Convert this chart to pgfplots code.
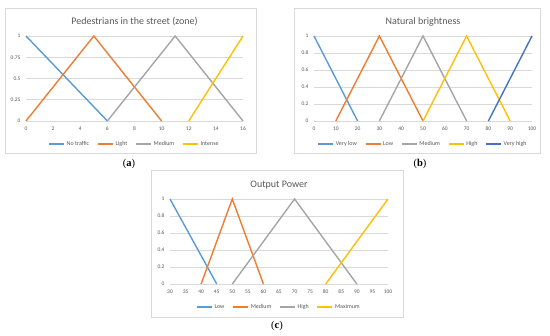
\documentclass[border=0pt]{standalone}
\usepackage{pgfplots}
\pgfplotsset{compat=1.18}
\usepackage{fontspec}
\setmainfont{Carlito}
\newfontfamily\seriffont{Liberation Serif}
\definecolor{cblue}{HTML}{5B9BD5}
\definecolor{corange}{HTML}{ED7D31}
\definecolor{cgray}{HTML}{A5A5A5}
\definecolor{cgold}{HTML}{FFC000}
\definecolor{cdblue}{HTML}{4472C4}
\definecolor{gridgray}{HTML}{D9D9D9}
\definecolor{boxgray}{HTML}{D9D9D9}
\definecolor{labgray}{HTML}{595959}
\pgfplotsset{
  fuzzy/.style={
    scale only axis, width=217pt, height=85pt,
    ymin=0, ymax=1, clip=false,
    axis line style={draw=none},
    ymajorgrids, grid style={gridgray, line width=0.6pt},
    major tick length=0pt,
    tick style={draw=none},
    /pgf/number format/assume math mode=true,
    ticklabel style={font=\fontsize{5.5}{6}\selectfont, text=labgray},
    yticklabel style={xshift=-2pt},
    xticklabel style={yshift=-2pt},
    title style={at={(0.5,1.165)}, anchor=center, yshift=-6pt, font=\fontsize{10}{11}\selectfont, text=labgray},
    legend style={draw=none, fill=none, at={(0.5,-0.27)}, anchor=center,
      font=\fontsize{6}{7}\selectfont, text=labgray,
      /tikz/every even column/.append style={column sep=6pt}},
    legend columns=-1,
    legend image code/.code={\draw[#1, line width=1.3pt] (0pt,0pt) -- (15pt,0pt);},
    every axis plot/.append style={line width=1.4pt, no markers},
  }
}
\begin{document}
\begin{tikzpicture}[x=1pt,y=1pt]
\path[fill=white] (0,0) rectangle (550,336);
% panel boxes
\draw[boxgray, line width=0.6pt, fill=white] (5,183) rectangle (256,328);
\draw[boxgray, line width=0.6pt, fill=white] (294,183) rectangle (540,328);
\draw[boxgray, line width=0.6pt, fill=white] (151,19) rectangle (403,166);
% (a)
\begin{axis}[fuzzy, at={(26pt,215pt)}, anchor=south west,
  width=217pt, xmin=0, xmax=16,
  xtick={0,2,4,6,8,10,12,14,16},
  ytick={0,0.25,0.5,0.75,1}, yticklabels={0,0.25,0.5,0.75,1},
  title={Pedestrians in the street (zone)}]
\addplot[cblue] coordinates {(0,1) (6,0)};
\addplot[corange] coordinates {(0,0) (5,1) (10,0)};
\addplot[cgray] coordinates {(6,0) (11,1) (16,0)};
\addplot[cgold] coordinates {(12,0) (16,1)};
\legend{No traffic, Light, Medium, Intense}
\end{axis}
% (b)
\begin{axis}[fuzzy, at={(314pt,215pt)}, anchor=south west,
  width=218pt, xmin=0, xmax=100,
  xtick={0,10,...,100},
  ytick={0,0.2,0.4,0.6,0.8,1}, yticklabels={0,0.2,0.4,0.6,0.8,1},
  title={Natural brightness}]
\addplot[cblue] coordinates {(0,1) (20,0)};
\addplot[corange] coordinates {(10,0) (30,1) (50,0)};
\addplot[cgray] coordinates {(30,0) (50,1) (70,0)};
\addplot[cgold] coordinates {(50,0) (70,1) (90,0)};
\addplot[cdblue] coordinates {(80,0) (100,1)};
\legend{Very low, Low, Medium, High, Very high}
\end{axis}
% (c)
\begin{axis}[fuzzy, at={(170pt,52pt)}, anchor=south west,
  width=218pt, xmin=30, xmax=100,
  xtick={30,35,...,100},
  ytick={0,0.2,0.4,0.6,0.8,1}, yticklabels={0,0.2,0.4,0.6,0.8,1},
  title={Output Power}]
\addplot[cblue] coordinates {(30,1) (45,0)};
\addplot[corange] coordinates {(40,0) (50,1) (60,0)};
\addplot[cgray] coordinates {(50,0) (70,1) (90,0)};
\addplot[cgold] coordinates {(80,0) (100,1)};
\legend{Low, Medium, High, Maximum}
\end{axis}
\node[font=\seriffont\fontsize{10.5}{11}\selectfont] at (129,172) {(\textbf{a})};
\node[font=\seriffont\fontsize{10.5}{11}\selectfont] at (420,172) {(\textbf{b})};
\node[font=\seriffont\fontsize{10.5}{11}\selectfont] at (277,10) {(\textbf{c})};
\end{tikzpicture}
\end{document}
